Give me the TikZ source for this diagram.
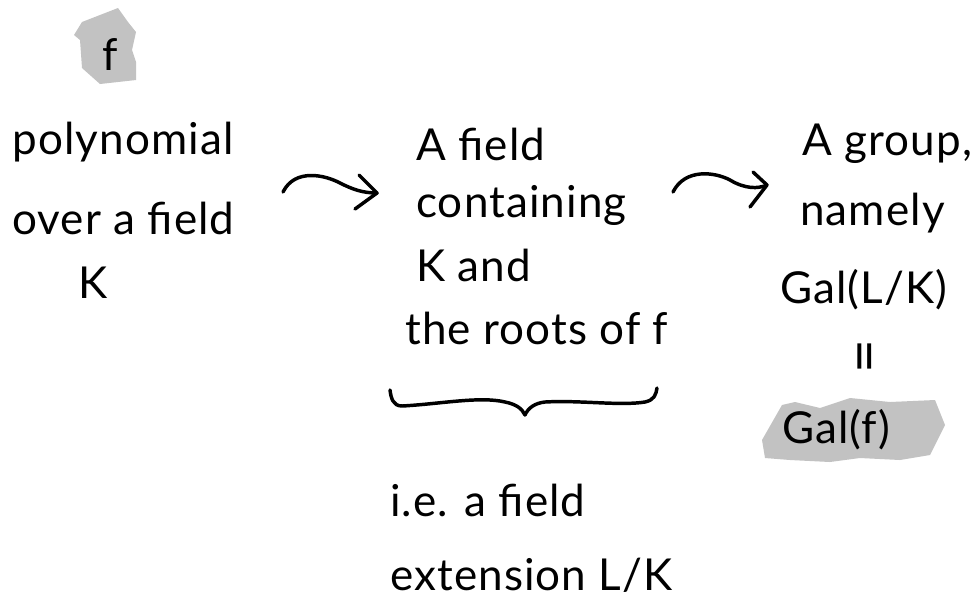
\documentclass[tikz,border=0pt]{standalone}
\usepackage{fontspec}
\setmainfont[LetterSpace=2.5]{Lato}
\begin{document}
\begin{tikzpicture}[x=0.75pt,y=-0.75pt,
  hand/.style={font=\fontsize{33}{40}\selectfont, inner sep=0pt, anchor=west},
  ink/.style={line width=2.6pt, line cap=round, line join=round},
  blob/.style={fill=black!24, draw=none}]
\useasboundingbox (0,0) rectangle (980,601);

% grey highlight patches
\fill[blob] (82,22) -- (118,8) -- (128,22) -- (136,32) -- (132,50) -- (136,62) -- (136,80) -- (100,84) -- (82,68) -- (80,40) -- (74,35) -- cycle;
\fill[blob] (762,440) -- (782,405) -- (795,402) -- (820,408) -- (850,398) -- (890,402) -- (935,400) -- (945,425) -- (930,455) -- (900,460) -- (860,458) -- (830,462) -- (790,460) -- (765,458) -- cycle;

% left column: the polynomial
\node[hand, anchor=center] (f) at (110,54) {f};
\node[hand] (p1) at (12,142) {polynomial};
\node[hand] (p2) at (12,218) {over a field};
\node[hand] (p3) at (78,283) {K};

% middle column: the splitting field
\node[hand] (m1) at (416,144) {A field};
\node[hand] (m2) at (416,205) {containing};
\node[hand] (m3) at (416,265) {K and};
\node[hand] (m4) at (405,328) {the roots of f};

% right column: the Galois group
\node[hand] (r1) at (802,144) {A group,};
\node[hand] (r2) at (800,213) {namely};
\node[hand] (r3) at (780,290) {Gal(L/K)};
\node[font=\fontsize{44}{50}\selectfont, inner sep=0pt, rotate=90] (eq) at (871,356) {=};
\node[hand] (r4) at (782,430) {Gal(f)};

% explanation under the brace
\node[hand] (e1) at (390,500) {i.e. a field};
\node[hand] (e2) at (390,575) {extension L/K};

% wavy arrows between the columns
\coordinate (a1s) at (283,192);
\coordinate (a1e) at (377,193);
\draw[ink] (a1s) .. controls (295,168) and (325,175) .. (340,183) .. controls (352,189) and (362,193) .. (a1e);
\draw[ink] (359,175) -- (a1e) -- (355,209);
\coordinate (a2s) at (673,192);
\coordinate (a2e) at (767,185);
\draw[ink] (a2s) .. controls (685,168) and (715,172) .. (730,180) .. controls (745,189) and (758,189) .. (a2e);
\draw[ink] (753,172) -- (a2e) -- (750,207);

% brace under the middle column
\coordinate (bl) at (390,390);
\coordinate (br) at (657,388);
\coordinate (bt) at (525,415);
\draw[ink] (bl) .. controls (391,398) and (393,406) .. (402,406) .. controls (440,404) and (480,396) .. (505,402) .. controls (515,404) and (522,408) .. (bt);
\draw[ink] (bt) .. controls (528,408) and (535,403) .. (545,402) .. controls (580,400) and (620,406) .. (645,402) .. controls (654,400) and (656,395) .. (br);
\end{tikzpicture}
\end{document}
